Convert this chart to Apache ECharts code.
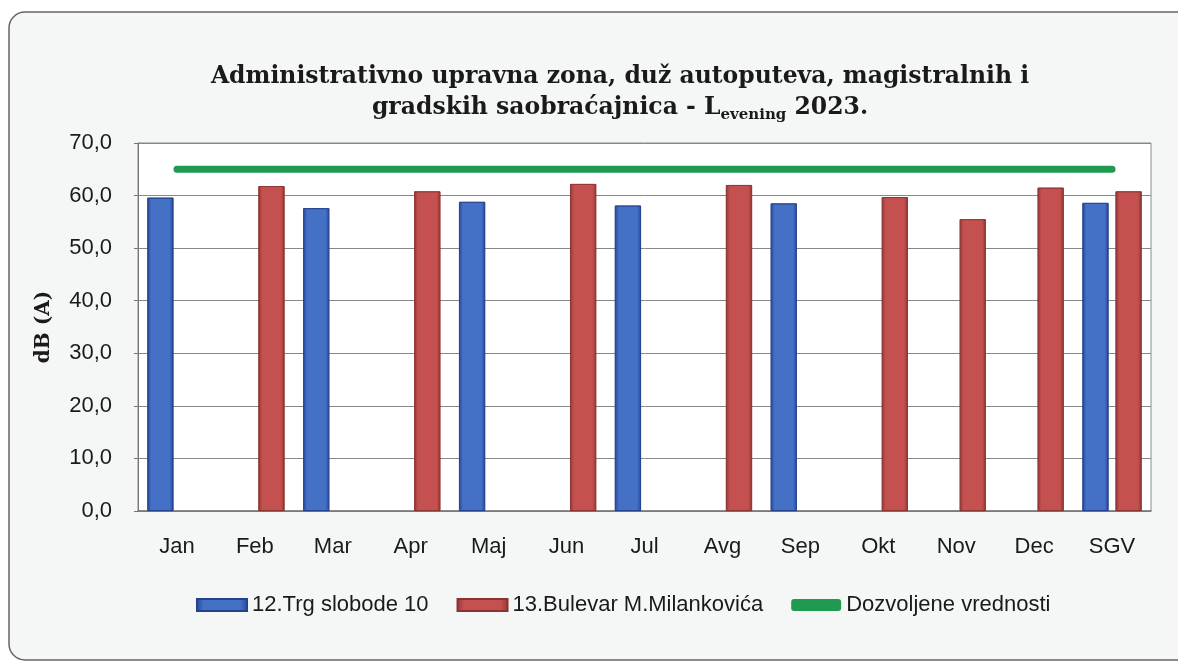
<!DOCTYPE html>
<html>
<head>
<meta charset="utf-8">
<script src="https://cdn.jsdelivr.net/npm/echarts@6/dist/echarts.min.js"></script>
<style>
html,body{margin:0;padding:0;background:#ffffff;}
#c{width:1178px;height:666px;}
</style>
</head>
<body>
<div id="c"></div>
<script>
const categories = ['Jan','Feb','Mar','Apr','Maj','Jun','Jul','Avg','Sep','Okt','Nov','Dec','SGV'];
const trgSlobode = [59.6, null, 57.6, null, 58.8, null, 58.1, null, 58.5, null, null, null, 58.6];
const bulevar = [null, 61.8, null, 60.8, null, 62.2, null, 62.0, null, 59.7, 55.5, 61.5, 60.8];
const dozvoljene = [65, 65, 65, 65, 65, 65, 65, 65, 65, 65, 65, 65, 65];
const seriesNames = ['12.Trg slobode 10', '13.Bulevar M.Milankovića', 'Dozvoljene vrednosti'];

const chart = echarts.init(document.getElementById('c'));

function grad(edge, mid) {
  return new echarts.graphic.LinearGradient(0, 0, 1, 0, [
    {offset: 0, color: edge},
    {offset: 0.15, color: mid},
    {offset: 0.85, color: mid},
    {offset: 1, color: edge}
  ]);
}

chart.setOption({
  backgroundColor: '#ffffff',
  graphic: [{
    type: 'rect',
    z: -10,
    silent: true,
    shape: {x: 9, y: 12, width: 1200, height: 648, r: 16},
    style: {fill: '#f5f6f6', stroke: '#666666', lineWidth: 1.5}
  }],
  title: {
    left: 615,
    top: 56,
    textAlign: 'center',
    text: '{a|Administrativno upravna zona, duž autoputeva, magistralnih i}\n{a|gradskih saobraćajnica - L}{s|evening}{a| 2023.}',
    textStyle: {
      rich: {
        a: {fontFamily: 'DejaVu Serif', fontWeight: 'bold', fontSize: 23.5, color: '#1a1a1a', lineHeight: 31},
        s: {fontFamily: 'DejaVu Serif', fontWeight: 'bold', fontSize: 15, color: '#1a1a1a', lineHeight: 31, verticalAlign: 'bottom'}
      }
    }
  },
  legend: {
    top: 589,
    left: 191,
    itemWidth: 50,
    itemHeight: 12,
    itemGap: 28,
    textStyle: {fontFamily: 'Liberation Sans', fontSize: 22, color: '#1a1a1a', padding: [0, 0, 0, 0]},
    data: [
      {name: seriesNames[0], icon: 'rect'},
      {name: seriesNames[1], icon: 'rect'},
      {name: seriesNames[2], icon: 'roundRect', itemStyle: {color: '#1f9a50'}}
    ]
  },
  grid: {
    left: 138, right: 27, top: 143, bottom: 155,
    show: true, backgroundColor: '#ffffff', borderColor: '#8a8a8a', borderWidth: 1
  },
  xAxis: {
    type: 'category',
    data: categories,
    axisLine: {lineStyle: {color: '#777777', width: 1.5}},
    axisTick: {show: false},
    axisLabel: {fontFamily: 'Liberation Sans', fontSize: 22, color: '#1a1a1a', margin: 25}
  },
  yAxis: {
    type: 'value',
    min: 0, max: 70, interval: 10,
    name: 'dB (A)',
    nameLocation: 'middle',
    nameGap: 84,
    nameTextStyle: {fontFamily: 'DejaVu Serif', fontWeight: 'bold', fontSize: 20, color: '#1a1a1a'},
    axisLine: {show: true, lineStyle: {color: '#777777'}},
    axisTick: {show: true, length: 4, lineStyle: {color: '#777777'}},
    splitLine: {lineStyle: {color: '#888888', width: 1}},
    axisLabel: {
      fontFamily: 'Liberation Sans', fontSize: 22, color: '#1a1a1a', margin: 26,
      formatter: v => v.toFixed(1).replace('.', ',')
    }
  },
  series: [
    {
      name: seriesNames[0], type: 'bar', data: trgSlobode,
      barGap: '27%', barCategoryGap: '24%',
      itemStyle: {color: grad('#27489a', '#4470c6'), borderColor: '#23418c', borderWidth: 0.8}
    },
    {
      name: seriesNames[1], type: 'bar', data: bulevar,
      barGap: '27%', barCategoryGap: '24%',
      itemStyle: {color: grad('#933836', '#c4514f'), borderColor: '#8a3432', borderWidth: 0.8}
    },
    {
      name: seriesNames[2], type: 'line', data: dozvoljene,
      showSymbol: false, symbol: 'none',
      lineStyle: {color: '#1f9a50', width: 7, cap: 'round'},
      itemStyle: {color: '#1f9a50'},
      z: 5
    }
  ]
});
</script>
</body>
</html>
